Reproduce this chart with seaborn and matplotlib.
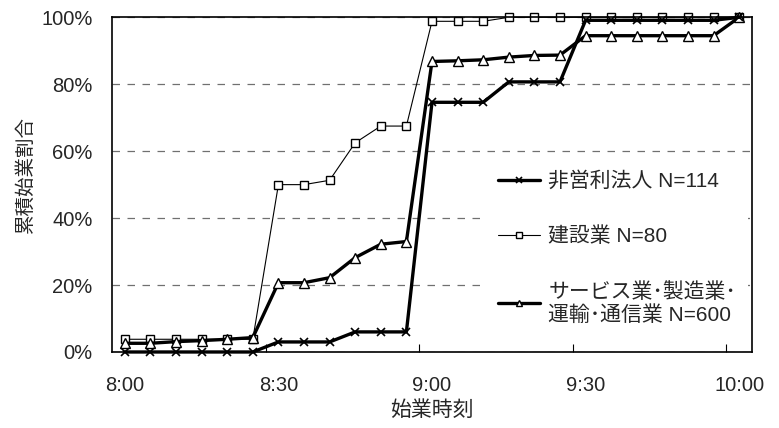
"""
plot.py
-------
Cumulative share of firms by work start time (8:00-10:00, 5-minute steps).
Run: python plot.py
"""

import matplotlib
matplotlib.use("Agg")
import matplotlib.pyplot as plt
from matplotlib.ticker import FixedLocator
import seaborn as sns

# -------------------------------------------------------------------
# Data (cumulative %)
# -------------------------------------------------------------------
times = [
    "8:00", "8:05", "8:10", "8:15", "8:20", "8:25",
    "8:30", "8:35", "8:40", "8:45", "8:50", "8:55",
    "9:00", "9:05", "9:10", "9:15", "9:20", "9:25",
    "9:30", "9:35", "9:40", "9:45", "9:50", "9:55",
    "10:00",
]
nonprofit = [
    0.0, 0.0, 0.0, 0.0, 0.0, 0.0,
    3.0, 3.0, 3.0, 6.0, 6.0, 6.0,
    74.6, 74.6, 74.6, 80.7, 80.7, 80.7,
    99.1, 99.1, 99.1, 99.1, 99.1, 99.1,
    100.0,
]
construction = [
    3.8, 3.8, 3.8, 3.8, 3.8, 3.8,
    50.0, 50.0, 51.3, 62.5, 67.5, 67.5,
    98.8, 98.8, 98.8, 100.0, 100.0, 100.0,
    100.0, 100.0, 100.0, 100.0, 100.0, 100.0,
    100.0,
]
service = [
    2.6, 2.6, 3.1, 3.4, 3.8, 4.3,
    20.7, 20.7, 22.2, 28.2, 32.2, 33.0,
    86.8, 87.0, 87.3, 88.1, 88.6, 88.7,
    94.5, 94.5, 94.5, 94.5, 94.5, 94.5,
    100.0,
]
labels = ["非営利法人 N=114", "建設業 N=80", "サービス業･製造業･\n運輸･通信業 N=600"]
y_ticks = [0, 20, 40, 60, 80, 100]
x_label_every = 6

# -------------------------------------------------------------------
# Style
# -------------------------------------------------------------------
sns.set_style("white")
plt.rcParams["font.family"] = ["Liberation Sans", "Noto Sans CJK JP", "DejaVu Sans"]

fig = plt.figure(figsize=(7.79, 4.28), dpi=100)
ax = fig.add_axes([0.1438, 0.1776, 0.8215, 0.782])

x = list(range(len(times)))

common = dict(ax=ax, color="black", markerfacecolor="white",
              markeredgecolor="black", clip_on=False)

l_con = sns.lineplot(x=x, y=construction, linewidth=0.8, marker="s",
                     markersize=5.5, markeredgewidth=1.0, **common).lines[-1]
l_srv = sns.lineplot(x=x, y=service, linewidth=2.4, marker="^",
                     markersize=6.5, markeredgewidth=1.0, **common).lines[-1]
l_np = sns.lineplot(x=x, y=nonprofit, linewidth=2.4, marker="x",
                    markersize=6, markeredgewidth=1.2, **common).lines[-1]

# -------------------------------------------------------------------
# Axes
# -------------------------------------------------------------------
ax.set_xlim(-0.5, len(times) - 0.5)
ax.set_ylim(0, 100)

ax.set_xticks(x[::x_label_every])
ax.set_xticklabels(times[::x_label_every], fontsize=14.5)
ax.xaxis.set_minor_locator(FixedLocator([i - 0.5 for i in x[::x_label_every][1:]]))
ax.tick_params(axis="x", which="major", length=0, pad=17)
ax.tick_params(axis="x", which="minor", direction="in", length=6, width=0.8,
               color="black", bottom=True)

ax.set_yticks(y_ticks)
ax.set_yticklabels([f"{v}%" for v in y_ticks], fontsize=14.5)
ax.tick_params(axis="y", length=0, pad=14)

ax.yaxis.grid(True, linestyle=(0, (6, 6)), color="#707070", linewidth=0.9)
ax.xaxis.grid(False)
ax.set_axisbelow(True)

for s in ax.spines.values():
    s.set_color("black")
    s.set_linewidth(1.2)

ax.set_xlabel("始業時刻", fontsize=15, labelpad=4)
ax.set_ylabel("累積始業割合", fontsize=14)
ax.yaxis.set_label_coords(-0.12, 0.53)

leg = ax.legend([l_np, l_con, l_srv], labels, loc="upper left",
                bbox_to_anchor=(0.586, 0.574), frameon=True, fontsize=15,
                borderpad=0.55, borderaxespad=0, handlelength=2.0,
                handletextpad=0.4, labelspacing=1.7, markerscale=0.7,
                fancybox=False, framealpha=1)
leg.get_frame().set_facecolor("white")
leg.get_frame().set_edgecolor("none")

fig.savefig("out.png", dpi=100)
plt.close(fig)
